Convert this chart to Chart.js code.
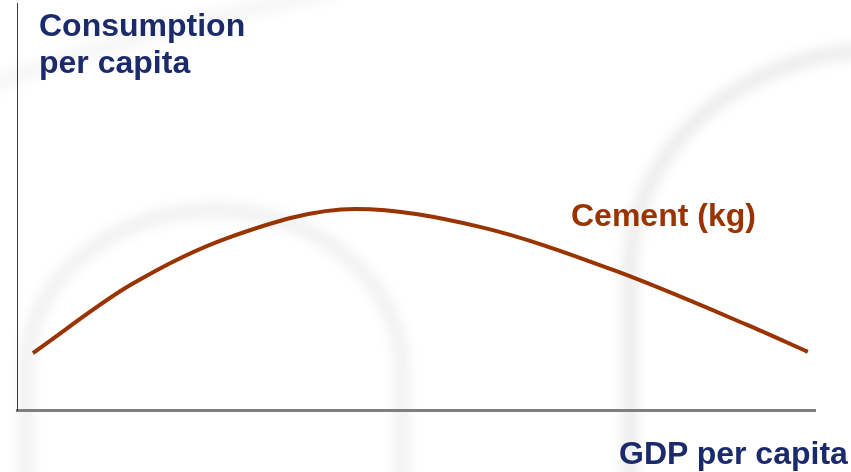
<!DOCTYPE html>
<html>
<head>
<meta charset="utf-8">
<script src="https://cdn.jsdelivr.net/npm/chart.js@4.4.0/dist/chart.umd.min.js"></script>
<style>
  html, body { margin: 0; padding: 0; background: #fff; }
  #wrap { position: relative; width: 851px; height: 472px; overflow: hidden; }
  #wrap canvas { position: absolute; left: 0; top: 0; }
  .lbl {
    position: absolute;
    font-family: "Liberation Sans", Arial, sans-serif;
    font-weight: bold;
    font-size: 32px;
    white-space: nowrap;
  }
  .navy { color: #1b2a6b; }
  .brown { color: #993300; }
</style>
</head>
<body>
<div id="wrap">
  <canvas id="cementChart"></canvas>
  <div class="lbl navy" style="left:39px; top:7px; line-height:37px;">Consumption<br>per capita</div>
  <div class="lbl brown" style="left:571px; top:199px; line-height:32px;">Cement (kg)</div>
  <div class="lbl navy" style="left:619px; top:437px; line-height:32px;">GDP per capita</div>
</div>

<script>
// GDP per capita (relative scale, 0-100) and cement consumption per capita
const gdpPerCapita = [2.0, 14.2, 26.7, 42.4, 58.0, 74.7, 91.5, 99.1];
const cementKg = [14.0, 30.7, 42.5, 49.4, 45.0, 34.4, 20.9, 14.3];

const seriesLabel = 'Cement (kg)';

// soft grey arches behind the plot
const backdrop = {
  id: 'backdrop',
  beforeDraw(chart) {
    const ctx = chart.ctx;
    ctx.save();
    ctx.fillStyle = '#ffffff';
    ctx.fillRect(0, 0, chart.width, chart.height);

    ctx.filter = 'blur(7px)';
    ctx.lineWidth = 9;

    // left arch
    ctx.strokeStyle = 'rgba(0,0,0,0.09)';
    ctx.beginPath();
    ctx.moveTo(26, 490);
    ctx.lineTo(26, 370);
    ctx.ellipse(214, 370, 188, 160, 0, Math.PI, 2 * Math.PI);
    ctx.lineTo(402, 490);
    ctx.stroke();

    // right arch
    ctx.strokeStyle = 'rgba(0,0,0,0.12)';
    ctx.beginPath();
    ctx.moveTo(630, 490);
    ctx.lineTo(630, 270);
    ctx.ellipse(880, 270, 250, 220, 0, Math.PI, 1.5 * Math.PI);
    ctx.stroke();

    // faint sweep across the top left
    ctx.strokeStyle = 'rgba(0,0,0,0.06)';
    ctx.beginPath();
    ctx.moveTo(-20, 90);
    ctx.quadraticCurveTo(120, 35, 340, -10);
    ctx.stroke();

    ctx.restore();
  }
};

const ctx = document.getElementById('cementChart').getContext('2d');
new Chart(ctx, {
  type: 'line',
  data: {
    datasets: [{
      label: seriesLabel,
      data: gdpPerCapita.map((g, i) => ({ x: g, y: cementKg[i] })),
      borderColor: '#993300',
      borderWidth: 4,
      pointRadius: 0,
      cubicInterpolationMode: 'monotone',
      fill: false
    }]
  },
  options: {
    responsive: true,
    maintainAspectRatio: false,
    animation: false,
    layout: { padding: { left: 9, top: 3, right: 36, bottom: 54 } },
    plugins: {
      legend: { display: false },
      tooltip: { enabled: false }
    },
    scales: {
      x: {
        type: 'linear',
        min: 0,
        max: 100,
        grid: { display: false },
        ticks: { display: false },
        border: { display: true, color: '#7f7f7f', width: 3 }
      },
      y: {
        min: 0,
        max: 100,
        grid: { display: false },
        ticks: { display: false },
        border: { display: true, color: '#3a3a3a', width: 1 }
      }
    }
  },
  plugins: [backdrop]
});
</script>
</body>
</html>
